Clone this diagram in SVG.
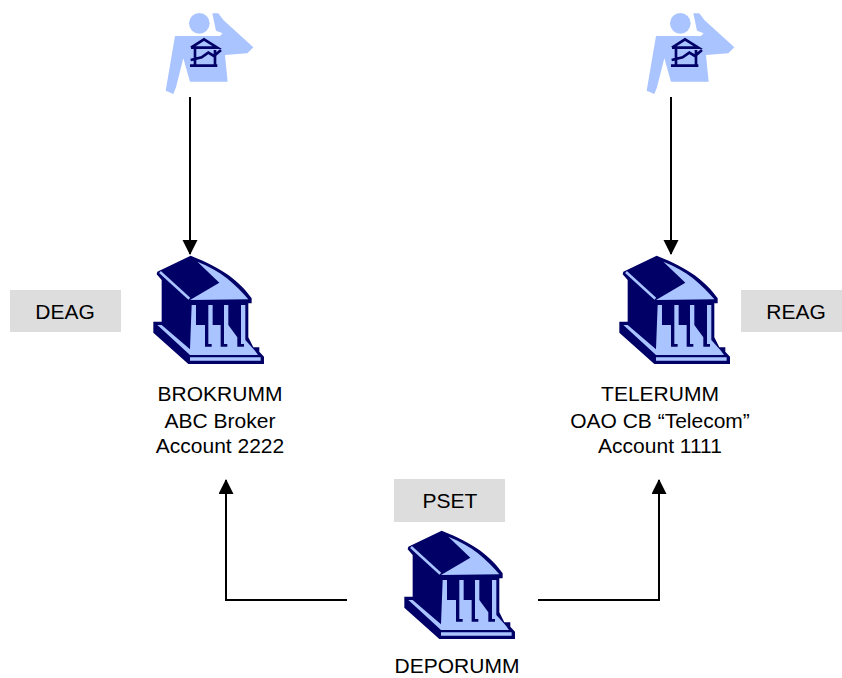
<svg xmlns="http://www.w3.org/2000/svg" width="842" height="678" viewBox="0 0 842 678">
<style>
text{font-family:"Liberation Sans",Arial,sans-serif;font-size:21px;fill:#000;text-anchor:middle}
.box{fill:#dddddd}
.wire{fill:none;stroke:#000;stroke-width:2}
.navy{fill:#000066}
.light{fill:#aac4ff}
.iconline{fill:none;stroke:#000066;stroke-width:8}
</style>
<defs>
<marker id="head" markerUnits="userSpaceOnUse" markerWidth="16" markerHeight="16" refX="14" refY="7.5" orient="auto"><path d="M0,0L15,7.5L0,15Z" fill="#000"/></marker>
<symbol id="bank" overflow="visible"><g transform="scale(.3333)">
<path class="navy" d="M152,47L52,95L50,103L65,120V245H40V278L145,372H372V350L358,335V322H340L325,292V190H335V175C300,125 250,85 152,47Z"/>
<path class="light" d="M172,65C240,90 290,135 325,178L150,180L238,128Z"/>
<path d="M60,96L148,176" fill="none" stroke="#aac4ff" stroke-width="8"/>
<path class="light" d="M155,195H316V300L345,332L354,345H150L52,255H65L150,328Z"/>
<path class="navy" d="M168,195H205V312H215V320H195V255H168Z"/>
<path class="navy" d="M218,195H252V312H262V320H242V255H218Z"/>
<path class="navy" d="M265,195H303V312H312V320H292V292L265,255Z"/>
<path class="light" d="M150,352H362V362H150Z"/>
</g></symbol>
<symbol id="person" overflow="visible"><g transform="scale(.3333)">
<circle class="light" cx="178" cy="70" r="31"/>
<path class="light" d="M217,40H235L250,60L340,142L322,160L255,165L263,245H150L130,175L108,262L100,282L77,272L105,108H240L248,100L228,92Z"/>
<path class="iconline" d="M153,143L192,118L232,143H153M165,143V197M225,150V197M150,197H232M152,180L185,172L205,158L222,168L243,150"/>
</g></symbol>
</defs>
<g id="connectors">
<path class="wire" d="M190,97V254" marker-end="url(#head)"/>
<path class="wire" d="M671,97V254" marker-end="url(#head)"/>
<path class="wire" d="M347,600H226V480" marker-end="url(#head)"/>
<path class="wire" d="M538,600H659V480" marker-end="url(#head)"/>
</g>
<g id="user-left"><use href="#person" x="140" y="0"/></g>
<g id="user-right"><use href="#person" x="621" y="0"/></g>
<g id="deag"><rect class="box" x="10" y="290" width="111" height="42"/><text x="65" y="319">DEAG</text></g>
<g id="reag"><rect class="box" x="741" y="290" width="101" height="42"/><text x="796" y="319">REAG</text></g>
<g id="pset"><rect class="box" x="394" y="479" width="111" height="43"/><text x="450" y="508">PSET</text></g>
<g id="brokrumm"><use href="#bank" x="140" y="240"/>
<text x="220" y="401">BROKRUMM</text><text x="220" y="428">ABC Broker</text><text x="220" y="453">Account 2222</text></g>
<g id="telerumm"><use href="#bank" x="606" y="240"/>
<text x="660" y="401">TELERUMM</text><text x="660" y="428">OAO CB “Telecom”</text><text x="660" y="453">Account 1111</text></g>
<g id="deporumm"><use href="#bank" x="391" y="515"/>
<text x="457" y="673">DEPORUMM</text></g>
</svg>
